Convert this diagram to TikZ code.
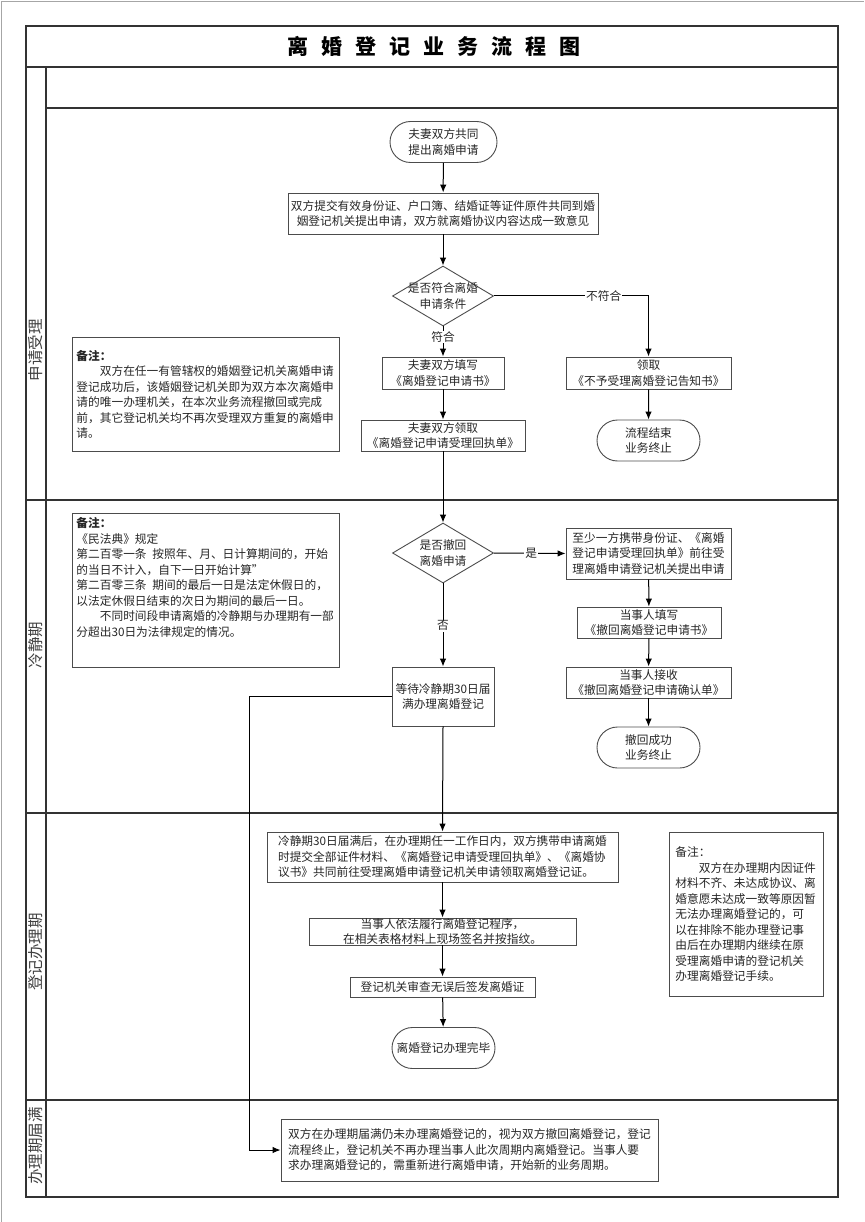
\documentclass[tikz,border=0pt]{standalone}
\usepackage{fontspec}
\setmainfont{Noto Sans CJK SC}
\usetikzlibrary{arrows.meta,shapes.geometric,shapes.misc}

\newcommand{\boxfont}{\fontsize{11.7}{15.5}\selectfont}
\newcommand{\titlefont}{\bfseries\fontsize{21}{24}\selectfont}
\newcommand{\lanefont}{\fontsize{15.5}{18}\selectfont}
\newcommand{\tsp}{\hspace{13pt}}

\tikzset{
  box/.style={draw=black!70, line width=0.9pt, inner sep=0pt, align=center, font=\boxfont, text=black!85},
  term/.style={box, rounded rectangle},
  decide/.style={box, diamond, aspect=1.68, inner sep=-5pt, minimum width=101pt, minimum height=60pt},
  note/.style={draw=black!70, line width=0.9pt, inner sep=4pt, font=\boxfont, text=black!85, align=left},
  flow/.style={line width=1pt, -{Latex[length=8pt,width=6.5pt]}},
  lbl/.style={fill=white, inner sep=1pt, font=\boxfont, text=black!85},
  lane/.style={font=\lanefont, text=black!75, rotate=90},
  frame/.style={line width=1.6pt, black!80}
}

\begin{document}
\begin{tikzpicture}[x=1pt, y=-1pt]
\useasboundingbox (0,0) rectangle (864,1222);

% page edge and frame
\draw[black!35, line width=1.5pt] (1.5,1222) -- (1.5,1.5) -- (864,1.5);
\draw[frame] (26,26) rectangle (838,1197);
\draw[frame] (26,67) -- (838,67);
\draw[frame] (46,67) -- (46,1197);
\draw[frame] (46,108) -- (838,108);
\foreach \y in {500,813,1100}
  \draw[frame] (26,\y) -- (838,\y);

\node[font=\titlefont] (title) at (434,46.5) {离\tsp 婚\tsp 登\tsp 记\tsp 业\tsp 务\tsp 流\tsp 程\tsp 图};

\node[lane] (lane1) at (36,350) {申请受理};
\node[lane] (lane2) at (36,645) {冷静期};
\node[lane] (lane3) at (36,952) {登记办理期};
\node[lane] (lane4) at (36,1146) {办理期届满};

% lane 1
\node[term, minimum width=107pt, minimum height=41pt] (start) at (443.5,142) {夫妻双方共同\\提出离婚申请};
\node[box, minimum width=310pt, minimum height=41pt] (apply) at (443,213.5) {双方提交有效身份证、户口簿、结婚证等证件原件共同到婚\\姻登记机关提出申请，双方就离婚协议内容达成一致意见};
\node[decide] (check) at (443,296) {是否符合离婚\\申请条件};
\node[box, minimum width=122pt, minimum height=32pt] (fill) at (443,373) {夫妻双方填写\\《离婚登记申请书》};
\node[box, minimum width=164pt, minimum height=31pt] (receipt) at (443,435.5) {夫妻双方领取\\《离婚登记申请受理回执单》};
\node[box, minimum width=165pt, minimum height=32pt] (refuse) at (648.5,373) {领取\\《不予受理离婚登记告知书》};
\node[term, minimum width=103pt, minimum height=41pt] (stop1) at (648.5,440.5) {流程结束\\业务终止};

\node[note, anchor=north west, minimum width=267pt, minimum height=114pt, text width=259pt] (note1) at (72,337)
  {{\bfseries 备注：}\\
   \hspace*{2em}双方在任一有管辖权的婚姻登记机关离婚申请\\
   登记成功后，该婚姻登记机关即为双方本次离婚申\\
   请的唯一办理机关，在本次业务流程撤回或完成\\
   前，其它登记机关均不再次受理双方重复的离婚申\\
   请。};

% lane 2
\node[decide] (withdraw) at (443,553) {是否撤回\\离婚申请};
\node[box, minimum width=102pt, minimum height=59pt] (wait) at (443,696.5) {等待冷静期30日届\\满办理离婚登记};
\node[box, minimum width=165pt, minimum height=51pt] (wbox) at (648.5,553.5) {至少一方携带身份证、《离婚\\登记申请受理回执单》前往受\\理离婚申请登记机关提出申请};
\node[box, minimum width=144pt, minimum height=31pt] (wfill) at (649,622.5) {当事人填写\\《撤回离婚登记申请书》};
\node[box, minimum width=165pt, minimum height=31pt] (wget) at (648.5,682.5) {当事人接收\\《撤回离婚登记申请确认单》};
\node[term, minimum width=103pt, minimum height=41pt] (stop2) at (648.5,747.5) {撤回成功\\业务终止};

\node[note, anchor=north west, minimum width=267pt, minimum height=154pt] (note2) at (72,513)
  {\parbox[c][146pt][t]{259pt}{{\bfseries 备注：}\\
   《民法典》规定\\
   第二百零一条\enspace 按照年、月、日计算期间的，开始\\
   的当日不计入，自下一日开始计算”\\
   第二百零三条\enspace 期间的最后一日是法定休假日的，\\
   以法定休假日结束的次日为期间的最后一日。\\
   \hspace*{2em}不同时间段申请离婚的冷静期与办理期有一部\\
   分超出30日为法律规定的情况。}};

% lane 3
\node[box, minimum width=351pt, minimum height=50pt, align=left] (reg) at (442.5,857) {冷静期30日届满后，在办理期任一工作日内，双方携带申请离婚\\时提交全部证件材料、《离婚登记申请受理回执单》、《离婚协\\议书》共同前往受理离婚申请登记机关申请领取离婚登记证。};
\node[box, minimum width=267pt, minimum height=27pt] (sign) at (442.5,931.5) {当事人依法履行离婚登记程序，\\在相关表格材料上现场签名并按指纹。};
\node[box, minimum width=185pt, minimum height=20pt] (issue) at (442.5,987) {登记机关审查无误后签发离婚证};
\node[term, minimum width=103pt, minimum height=41pt] (done) at (443.5,1048) {离婚登记办理完毕};

\node[note, anchor=north west, minimum width=154pt, minimum height=164pt, text width=142pt, inner sep=6pt] (note3) at (669,832)
  {备注：\\
   \hspace*{2em}双方在办理期内因证件\\
   材料不齐、未达成协议、离\\
   婚意愿未达成一致等原因暂\\
   无法办理离婚登记的，可\\
   以在排除不能办理登记事\\
   由后在办理期内继续在原\\
   受理离婚申请的登记机关\\
   办理离婚登记手续。};

% lane 4
\node[box, minimum width=377pt, minimum height=62pt, align=left] (expire) at (469.5,1150) {双方在办理期届满仍未办理离婚登记的，视为双方撤回离婚登记，登记\\流程终止，登记机关不再办理当事人此次周期内离婚登记。当事人要\\求办理离婚登记的，需重新进行离婚申请，开始新的业务周期。};
\coordinate (bend) at (249,1150);

% connectors
\draw[flow] (start) -- (apply);
\draw[flow] (apply) -- (check);
\draw[flow] (check.east) -| node[lbl, pos=0.355] {不符合} (refuse.north);
\draw[flow] (check.south) -- node[lbl, pos=0.35] {符合} (fill.north);
\draw[flow] (fill) -- (receipt);
\draw[flow] (refuse) -- (stop1);
\draw[flow] (receipt.south) -- (withdraw.north);
\draw[flow] (withdraw.east) -- node[lbl, pos=0.52] {是} (wbox.west);
\draw[flow] (wbox) -- (wfill);
\draw[flow] (wfill) -- (wget);
\draw[flow] (wget) -- (stop2);
\draw[flow] (withdraw.south) -- node[lbl, pos=0.51] {否} (wait.north);
\draw[flow] (wait.south) -- (reg.north);
\draw[flow] (reg) -- (sign);
\draw[flow] (sign) -- (issue);
\draw[flow] (issue) -- (done);
\draw[flow] (wait.west) -| (bend) -- (expire.west);
\end{tikzpicture}
\end{document}
